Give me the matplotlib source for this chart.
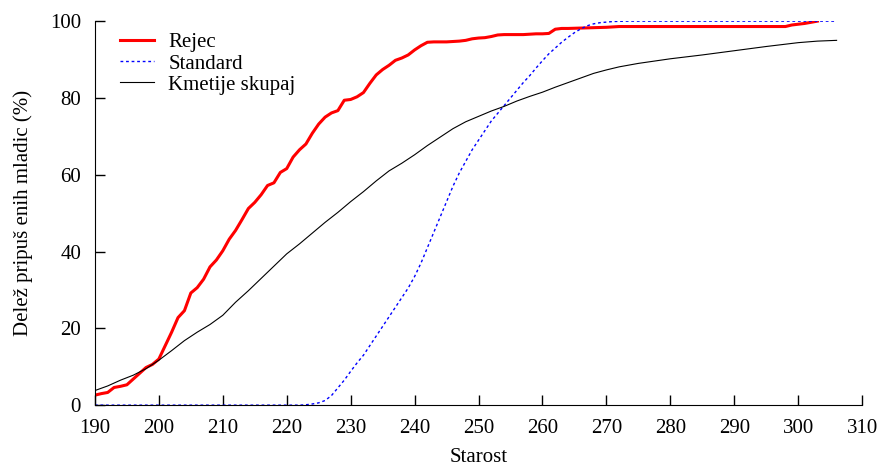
import numpy as np
import matplotlib
matplotlib.use("Agg")
import matplotlib.pyplot as plt

# Rejec
rejec_x = [190, 191, 192, 193, 194, 195, 196, 197, 198, 199, 200, 201, 202, 203, 204,
           205, 206, 207, 208, 209, 210, 211, 212, 213, 214, 215, 216, 217, 218, 219,
           220, 221, 222, 223, 224, 225, 226, 227, 228, 229, 230, 231, 232, 233, 234,
           235, 236, 237, 238, 239, 240, 241, 242, 243, 244, 245, 246, 247, 248, 249,
           250, 251, 252, 253, 254, 255, 256, 257, 258, 259, 260, 261, 262, 263, 264,
           266, 268, 270, 272, 275, 280, 285, 290, 295, 298, 299, 300, 301, 302, 303]
rejec_y = [2.6, 3.0, 3.3, 4.6, 4.9, 5.3, 6.8, 8.3, 9.8, 10.6, 12.0, 15.5, 19.0, 22.8, 24.6,
           29.2, 30.6, 32.8, 36.0, 37.8, 40.2, 43.2, 45.5, 48.3, 51.2, 52.8, 54.8, 57.2, 57.9, 60.6,
           61.6, 64.6, 66.5, 68.0, 70.8, 73.2, 75.0, 76.1, 76.7, 79.4, 79.6, 80.3, 81.4, 83.8, 86.0,
           87.4, 88.5, 89.8, 90.4, 91.2, 92.5, 93.6, 94.5, 94.6, 94.6, 94.6, 94.7, 94.8, 95.0, 95.4,
           95.6, 95.7, 96.0, 96.4, 96.5, 96.5, 96.5, 96.5, 96.6, 96.7, 96.7, 96.8, 97.9, 98.1, 98.1,
           98.2, 98.3, 98.4, 98.6, 98.6, 98.6, 98.6, 98.6, 98.6, 98.6, 99.0, 99.2, 99.4, 99.7, 100.0]

# Standard
std_x = [190, 222, 223, 224, 225, 226, 227, 228, 229, 230, 231, 232, 233, 234, 235,
         236, 237, 238, 239, 240, 241, 242, 243, 244, 245, 246, 247, 248, 249, 250,
         251, 252, 253, 254, 255, 256, 257, 258, 259, 260, 261, 262, 263, 264, 265,
         266, 267, 268, 269, 271, 273, 306]
std_y = [0, 0, 0.1, 0.3, 0.6, 1.2, 2.5, 4.5, 6.5, 8.8, 11.0, 13.0, 15.5, 18.0, 20.5,
         23.0, 25.5, 28.0, 30.5, 33.5, 37.0, 41.0, 45.0, 49.0, 53.0, 57.0, 60.5, 63.5, 66.5, 69.0,
         71.5, 74.0, 76.0, 78.0, 80.0, 82.0, 84.0, 85.8, 87.8, 89.7, 91.5, 93.0, 94.5, 95.8, 97.0,
         98.0, 98.8, 99.3, 99.6, 99.9, 100.0, 100.0]

# Kmetije skupaj
kmet_x = [190, 192, 194, 196, 198, 200, 202, 204, 206, 208, 210, 212, 214, 216, 218,
          220, 222, 224, 226, 228, 230, 232, 234, 236, 238, 240, 242, 244, 246, 248,
          250, 252, 254, 256, 258, 260, 262, 264, 266, 268, 270, 272, 275, 280, 285,
          290, 295, 300, 303, 306]
kmet_y = [3.8, 5.0, 6.5, 7.8, 9.5, 11.7, 14.2, 16.8, 19.0, 21.0, 23.4, 26.8, 29.8, 33.0, 36.2,
          39.4, 42.0, 44.8, 47.6, 50.2, 53.0, 55.6, 58.4, 61.0, 63.0, 65.2, 67.6, 69.8, 72.0, 73.8,
          75.2, 76.6, 77.8, 79.2, 80.4, 81.5, 82.8, 84.0, 85.2, 86.4, 87.3, 88.1, 89.0, 90.2, 91.2,
          92.3, 93.4, 94.4, 94.8, 95.0]

plt.rcParams["font.family"] = ["Liberation Serif", "DejaVu Serif"]
plt.rcParams["font.size"] = 15

fig, ax = plt.subplots(figsize=(8.87, 4.70), dpi=100)
fig.subplots_adjust(left=0.107, right=0.972, top=0.955, bottom=0.138)

ax.plot(rejec_x, rejec_y, color="red", lw=2.2, label="Rejec")
ax.plot(std_x, std_y, color="blue", lw=1.0, dashes=(2, 2), label="Standard")
ax.plot(kmet_x, kmet_y, color="black", lw=0.8, label="Kmetije skupaj")

ax.set_xlim(190, 310)
ax.set_ylim(0, 100)
ax.set_xticks(np.arange(190, 311, 10))
ax.set_yticks(np.arange(0, 101, 20))
ax.spines["top"].set_visible(False)
ax.spines["right"].set_visible(False)
ax.tick_params(direction="in", length=7, width=1, pad=10)

ax.set_xlabel("Starost", labelpad=7)
ax.set_ylabel("Delež pripuš enih mladic (%)", labelpad=12)

ax.legend(loc="upper left", bbox_to_anchor=(0.033, 0.97), frameon=False,
          handlelength=1.6, handletextpad=0.7, labelspacing=0.08, borderaxespad=0,
          borderpad=0)

fig.savefig("out.png", dpi=100)
